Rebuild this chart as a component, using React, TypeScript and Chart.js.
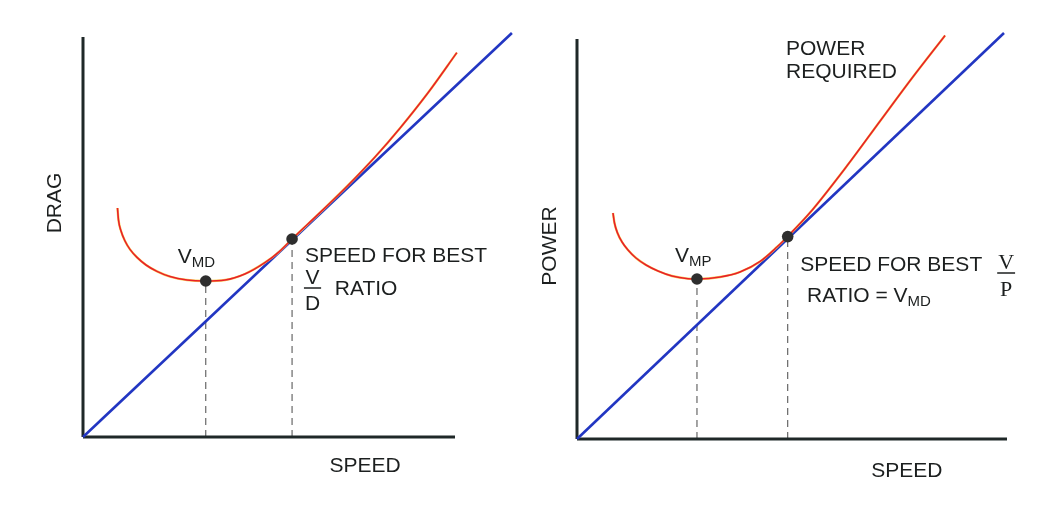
import React, { useEffect, useRef } from "react";
import { Chart, registerables } from "chart.js";

Chart.register(...registerables);

// ---------- Left panel: DRAG vs SPEED ----------
const dragSpeed = [9.27, 9.54, 10.22, 11.29, 12.63, 14.52, 16.94, 19.89, 23.39, 27.96, 32.8, 38.2, 43.5, 48.9, 52.7, 56.2, 63.7, 71.0, 78.5, 85.2, 92.7, 100.5];
const dragValues = [57.25, 54.25, 51.5, 49.0, 46.9, 44.9, 43.0, 41.4, 40.1, 39.25, 39.0, 39.25, 40.75, 43.6, 46.3, 49.5, 56.1, 62.7, 70.0, 77.2, 86.0, 96.1];
const dragTangentSpeed = [0, 115.3];
const dragTangentValues = [0, 101];
const dragMarkSpeed = [33.0, 56.2]; // V_MD, speed for best V/D
const dragMarkValues = [39.0, 49.5];

// ---------- Right panel: POWER vs SPEED ----------
const powerSpeed = [8.37, 8.72, 9.42, 10.47, 11.86, 13.72, 16.05, 18.84, 22.09, 25.81, 28.14, 33.3, 37.9, 42.6, 46.5, 49.1, 54.2, 62.8, 70.5, 78.1, 85.6];
const powerValues = [56.5, 54.0, 51.5, 49.25, 47.25, 45.25, 43.5, 42.0, 40.75, 40.08, 40.0, 40.5, 41.75, 44.4, 48.0, 50.75, 56.6, 68.3, 79.5, 90.5, 100.9];
const powerTangentSpeed = [0, 99.3];
const powerTangentValues = [0, 101.5];
const powerMarkSpeed = [27.9, 49.0]; // V_MP, speed for best V/P
const powerMarkValues = [40.0, 50.6];

const axisMax = [0, 100];

const SANS = '"Liberation Sans", Arial, sans-serif';
const SERIF = '"Liberation Serif", "Times New Roman", serif';
const TEXT = "#1c1f1f";

type Lbl =
  | { kind: "text"; text: string; x: number; y: number; size: number; align?: CanvasTextAlign; rotate?: boolean; sub?: string; subSize?: number }
  | { kind: "frac"; num: string; den: string; x: number; y: number; size: number; serif?: boolean };

const dragLabels: Lbl[] = [
  { kind: "text", text: "DRAG", x: -7.5, y: 58.5, size: 21, align: "center", rotate: true },
  { kind: "text", text: "SPEED", x: 75.8, y: -8.75, size: 21, align: "center" },
  { kind: "text", text: "V", x: 25.5, y: 43.5, size: 21, sub: "MD", subSize: 15 },
  { kind: "text", text: "SPEED FOR BEST", x: 59.7, y: 43.75, size: 21 },
  { kind: "frac", num: "V", den: "D", x: 61.7, y: 37.25, size: 21 },
  { kind: "text", text: "RATIO", x: 67.7, y: 35.5, size: 21 },
];

const powerLabels: Lbl[] = [
  { kind: "text", text: "POWER", x: -6.3, y: 48.25, size: 21, align: "center", rotate: true },
  { kind: "text", text: "SPEED", x: 76.7, y: -9.5, size: 21, align: "center" },
  { kind: "text", text: "POWER", x: 48.6, y: 96, size: 21 },
  { kind: "text", text: "REQUIRED", x: 48.6, y: 90.25, size: 21 },
  { kind: "text", text: "V", x: 22.8, y: 44.25, size: 21, sub: "MP", subSize: 15 },
  { kind: "text", text: "SPEED FOR BEST", x: 51.9, y: 42, size: 21 },
  { kind: "frac", num: "V", den: "P", x: 99.8, y: 41.5, size: 22, serif: true },
  { kind: "text", text: "RATIO = V", x: 53.5, y: 34.25, size: 21, sub: "MD", subSize: 15 },
];

const labelPlugin = {
  id: "panelLabels",
  afterDatasetsDraw(chart: any, _args: any, opts: any) {
    const ctx: CanvasRenderingContext2D = chart.ctx;
    const xs = chart.scales.x;
    const ys = chart.scales.y;
    const items: Lbl[] = opts.items || [];
    for (const l of items) {
      const px = xs.getPixelForValue(l.x);
      const py = ys.getPixelForValue(l.y);
      ctx.save();
      ctx.fillStyle = TEXT;
      ctx.strokeStyle = TEXT;
      if (l.kind === "frac") {
        ctx.font = `${l.size}px ${l.serif ? SERIF : SANS}`;
        ctx.textAlign = "center";
        ctx.textBaseline = "alphabetic";
        ctx.fillText(l.num, px, py - 4);
        ctx.fillText(l.den, px, py + l.size + 1);
        const w = Math.max(ctx.measureText(l.num).width, ctx.measureText(l.den).width) + 2;
        ctx.lineWidth = 1.5;
        ctx.beginPath();
        ctx.moveTo(px - w / 2, py);
        ctx.lineTo(px + w / 2, py);
        ctx.stroke();
      } else {
        ctx.font = `${l.size}px ${SANS}`;
        if (l.rotate) {
          ctx.translate(px, py);
          ctx.rotate(-Math.PI / 2);
          ctx.textAlign = "center";
          ctx.textBaseline = "middle";
          ctx.fillText(l.text, 0, 0);
        } else {
          ctx.textAlign = l.align || "left";
          ctx.textBaseline = "alphabetic";
          ctx.fillText(l.text, px, py);
          if (l.sub) {
            const w = ctx.measureText(l.text).width;
            ctx.font = `${l.subSize || 14}px ${SANS}`;
            ctx.textAlign = "left";
            ctx.fillText(l.sub, px + w, py + 4);
          }
        }
      }
      ctx.restore();
    }
  },
};

function pts(xs: number[], ys: number[]) {
  return xs.map((x, i) => ({ x, y: ys[i] }));
}

function buildConfig(
  curveX: number[],
  curveY: number[],
  tanX: number[],
  tanY: number[],
  markX: number[],
  markY: number[],
  labels: Lbl[],
  padding: { left: number; right: number; top: number; bottom: number }
): any {
  const dashed = markX.map((mx, i) => ({
    type: "line",
    data: [
      { x: mx, y: 0 },
      { x: mx, y: markY[i] },
    ],
    borderColor: "#5a5a5a",
    borderWidth: 1.1,
    borderDash: [7, 5],
    pointRadius: 0,
    clip: false,
    order: 6,
  }));
  return {
    type: "line",
    data: {
      datasets: [
        {
          data: pts(markX, markY),
          showLine: false,
          pointRadius: 5.8,
          pointBackgroundColor: "#2e2e2e",
          pointBorderColor: "#2e2e2e",
          pointBorderWidth: 0,
          clip: false,
          order: 0,
        },
        {
          data: pts(curveX, curveY),
          borderColor: "#e8202a",
          borderWidth: 1.6,
          cubicInterpolationMode: "monotone",
          pointRadius: 0,
          clip: false,
          order: 1,
        },
        {
          data: pts(curveX, curveY),
          borderColor: "#f9cf5a",
          borderWidth: 2.4,
          cubicInterpolationMode: "monotone",
          pointRadius: 0,
          clip: false,
          order: 2,
        },
        {
          data: pts(tanX, tanY),
          borderColor: "#2236c2",
          borderWidth: 2.6,
          pointRadius: 0,
          clip: false,
          order: 3,
        },
        {
          data: [
            { x: axisMax[0], y: axisMax[0] },
            { x: axisMax[0], y: axisMax[1] },
          ],
          borderColor: "#1f2828",
          borderWidth: 3,
          pointRadius: 0,
          clip: false,
          order: 4,
        },
        {
          data: [
            { x: axisMax[0], y: axisMax[0] },
            { x: axisMax[1], y: axisMax[0] },
          ],
          borderColor: "#1f2828",
          borderWidth: 3,
          pointRadius: 0,
          clip: false,
          order: 5,
        },
        ...dashed,
      ],
    },
    options: {
      animation: false,
      responsive: false,
      events: [],
      layout: { padding },
      scales: {
        x: { type: "linear", min: axisMax[0], max: axisMax[1], display: false },
        y: { type: "linear", min: axisMax[0], max: axisMax[1], display: false },
      },
      plugins: {
        legend: { display: false },
        tooltip: { enabled: false },
        panelLabels: { items: labels },
      },
    },
    plugins: [labelPlugin],
  };
}

function Panel(props: { cfg: () => any; width: number; left: number }) {
  const ref = useRef<HTMLCanvasElement | null>(null);
  useEffect(() => {
    if (!ref.current) return;
    const chart = new Chart(ref.current, props.cfg());
    return () => chart.destroy();
  }, []);
  return (
    <canvas
      ref={ref}
      width={props.width}
      height={505}
      style={{ position: "absolute", left: props.left, top: 0, width: props.width, height: 505 }}
    />
  );
}

export default function App() {
  return (
    <div style={{ position: "fixed", left: 0, top: 0, width: 1057, height: 505, background: "#ffffff" }}>
      <Panel
        left={0}
        width={530}
        cfg={() =>
          buildConfig(dragSpeed, dragValues, dragTangentSpeed, dragTangentValues, dragMarkSpeed, dragMarkValues, dragLabels, {
            left: 83,
            right: 75,
            top: 37,
            bottom: 68,
          })
        }
      />
      <Panel
        left={530}
        width={527}
        cfg={() =>
          buildConfig(powerSpeed, powerValues, powerTangentSpeed, powerTangentValues, powerMarkSpeed, powerMarkValues, powerLabels, {
            left: 47,
            right: 50,
            top: 39,
            bottom: 66,
          })
        }
      />
    </div>
  );
}
